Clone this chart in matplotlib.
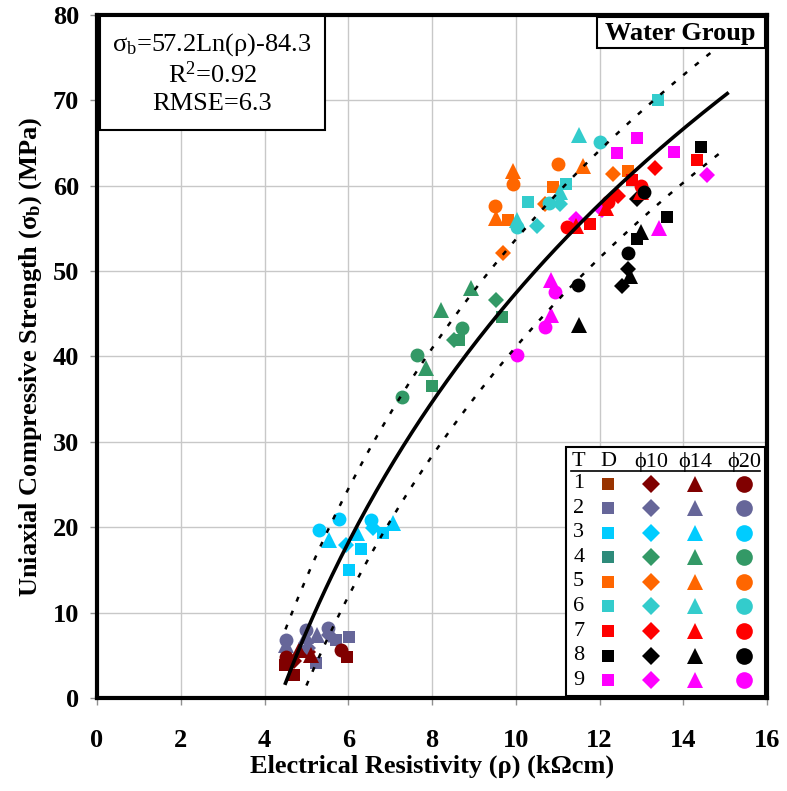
import numpy as np
import matplotlib
matplotlib.use("Agg")
import matplotlib.pyplot as plt
from matplotlib.patches import Rectangle

plt.rcParams['font.family'] = ['Liberation Serif', 'DejaVu Serif']
plt.rcParams['mathtext.fontset'] = 'custom'
plt.rcParams['mathtext.rm'] = 'Liberation Serif'
plt.rcParams['mathtext.it'] = 'Liberation Serif:italic'
plt.rcParams['mathtext.bf'] = 'Liberation Serif:bold'

# ---- data: electrical resistivity (kOhm cm) vs UCS (MPa), by specimen type ----
group_colors = ['#800000', '#666699', '#00CCFF', '#339966', '#FF6600',
                '#33CCCC', '#FF0000', '#000000', '#FF00FF']
legend_square_colors = ['#993300', '#666699', '#00CCFF', '#2E8B7A', '#FF6600',
                        '#33CCCC', '#FF0000', '#000000', '#FF00FF']

# D (plain) specimens -> squares
square_group = [1, 1, 1, 2, 2, 2, 3, 3, 3, 4, 4, 4, 5, 5, 5, 6, 6, 6, 7, 7, 7, 8, 8, 8, 9, 9, 9]
square_rho = [4.48, 4.70, 5.98, 5.71, 6.02, 5.23, 6.30, 6.82, 6.01, 9.67, 8.64, 8.01,
              10.90, 9.82, 12.69, 11.21, 10.29, 13.40, 11.78, 12.77, 14.32,
              14.42, 13.60, 12.89, 12.89, 12.41, 13.79]
square_sigma = [3.9, 2.7, 4.8, 6.8, 7.2, 4.1, 17.5, 19.3, 15.0, 44.6, 41.9, 36.5,
                59.8, 56.0, 61.7, 60.2, 58.1, 70.0, 55.5, 60.7, 63.0,
                64.5, 56.3, 53.8, 65.6, 63.8, 64.0]

# phi10 specimens -> diamonds
diamond_group = [1, 1, 2, 2, 3, 3, 4, 4, 5, 5, 5, 6, 6, 7, 7, 8, 8, 8, 9, 9, 9]
diamond_rho = [4.71, 5.03, 5.55, 5.03, 5.94, 6.58, 9.52, 8.52, 10.69, 9.70, 12.33,
               11.05, 10.51, 12.43, 13.33, 12.89, 12.69, 12.53, 14.56, 11.44, 12.06]
diamond_sigma = [4.3, 5.4, 7.4, 5.8, 17.9, 19.9, 46.6, 41.9, 57.8, 52.1, 61.4,
                 57.9, 55.3, 58.8, 62.1, 58.5, 50.3, 48.2, 61.2, 56.1, 57.1]

# phi14 specimens -> triangles
triangle_group = [1, 1, 2, 2, 2, 3, 3, 3, 4, 4, 4, 5, 5, 5, 6, 6, 6, 7, 7, 7, 8, 8, 8, 9, 9, 9]
triangle_rho = [4.83, 5.11, 4.51, 5.25, 5.00, 5.55, 6.22, 7.06, 8.92, 8.21, 7.85,
                9.93, 11.60, 9.52, 11.52, 11.06, 10.03, 11.44, 12.15, 13.00,
                13.00, 12.73, 11.50, 13.43, 10.83, 10.83]
triangle_sigma = [5.6, 5.0, 6.2, 7.4, 7.3, 18.5, 19.3, 20.5, 48.0, 45.5, 38.6,
                  61.7, 62.3, 56.2, 65.9, 59.3, 56.0, 55.3, 57.4, 59.3,
                  54.6, 49.4, 43.7, 55.1, 48.9, 44.8]

# phi20 specimens -> circles
circle_group = [1, 1, 2, 2, 2, 3, 3, 3, 4, 4, 4, 5, 5, 5, 6, 6, 6, 7, 7, 7, 8, 8, 8, 9, 9, 9]
circle_rho = [4.51, 5.82, 4.51, 4.99, 5.51, 5.79, 5.31, 6.54, 8.72, 7.63, 7.29,
              9.93, 11.02, 9.50, 12.02, 10.79, 10.03, 11.22, 12.21, 12.99,
              13.07, 12.69, 11.48, 10.94, 10.69, 10.03]
circle_sigma = [4.8, 5.6, 6.8, 8.0, 8.2, 21.0, 19.7, 20.8, 43.3, 40.2, 35.3,
                60.2, 62.5, 57.6, 65.1, 58.0, 55.2, 55.2, 58.1, 60.0,
                59.3, 52.1, 48.4, 47.6, 43.4, 40.2]

# regression  sigma_b = a*ln(rho) + b, with +/- RMSE band
fit_a, fit_b, fit_r2, fit_rmse = 57.2, -84.3, 0.92, 6.3
fit_range = (4.5, 15.05)
upper_range = (4.5, 14.7)
lower_range = (5.0, 14.9)

legend_rows = ['1', '2', '3', '4', '5', '6', '7', '8', '9']
legend_headers = ['T', 'D', 'ϕ10', 'ϕ14', 'ϕ20']

# ---- figure ----
fig = plt.figure(figsize=(7.87, 7.91), dpi=100)
ax = fig.add_axes([0.1233, 0.1176, 0.8513, 0.8635])
ax.set_xlim(0, 16)
ax.set_ylim(0, 80)
ax.set_xticks(np.arange(0, 17, 2))
ax.set_yticks(np.arange(0, 81, 10))
ax.grid(True, color='#c8c8c8', lw=1.0)
ax.set_axisbelow(True)
for s in ax.spines.values():
    s.set_linewidth(3)
    s.set_color('black')
ax.tick_params(direction='out', length=5, width=1, color='#909090')
ax.tick_params(axis='x', pad=17)
ax.tick_params(axis='y', pad=8)
for lab in ax.get_xticklabels() + ax.get_yticklabels():
    lab.set_fontweight('bold')
    lab.set_fontsize(19)

ax.set_xlabel('Electrical Resistivity (ρ) (kΩcm)', fontsize=19, fontweight='bold', labelpad=2)
ax.set_ylabel(r'Uniaxial Compressive Strength (σ$_{\mathbf{b}}$) (MPa)', fontsize=19,
              fontweight='bold', labelpad=6)

def fit(r):
    return fit_a * np.log(r) + fit_b

r = np.linspace(*fit_range, 200)
ax.plot(r, fit(r), color='black', lw=2.6, zorder=4)
r = np.linspace(*upper_range, 200)
ax.plot(r, fit(r) + fit_rmse, color='black', lw=1.8, ls=(0, (2, 4)), zorder=4)
r = np.linspace(*lower_range, 200)
ax.plot(r, fit(r) - fit_rmse, color='black', lw=1.8, ls=(0, (2, 4)), zorder=4)

marker_specs = [
    (square_group, square_rho, square_sigma, 's', 9),
    (diamond_group, diamond_rho, diamond_sigma, 'D', 8),
    (triangle_group, triangle_rho, triangle_sigma, '^', 11),
    (circle_group, circle_rho, circle_sigma, 'o', 10),
]
for grp, xs, ys, mk, ms in marker_specs:
    for g, x, y in zip(grp, xs, ys):
        ax.plot(x, y, marker=mk, ms=ms, color=group_colors[g - 1], mew=0,
                ls='none', zorder=3)

# equation box
ax.add_patch(Rectangle((0.004, 0.832), 0.336, 0.166, transform=ax.transAxes,
                       facecolor='white', edgecolor='black', lw=1.5, zorder=6))
eq_lines = [r'σ$_{\rm b}$=' + f'{fit_a}Ln(ρ){fit_b}',
            r'R$^{\rm 2}$=' + f'{fit_r2}',
            f'RMSE={fit_rmse}']
for i, t in enumerate(eq_lines):
    ax.text(0.172, 0.957 - i * 0.044, t, transform=ax.transAxes, ha='center',
            va='center', fontsize=19, zorder=7)

# group title box
ax.add_patch(Rectangle((0.746, 0.951), 0.251, 0.046, transform=ax.transAxes,
                       facecolor='white', edgecolor='black', lw=1.5, zorder=6))
ax.text(0.871, 0.973, 'Water Group', transform=ax.transAxes, ha='center', va='center',
        fontsize=19, fontweight='bold', zorder=7)

# symbol table
ax.add_patch(Rectangle((0.700, 0.003), 0.297, 0.364, transform=ax.transAxes,
                       facecolor='white', edgecolor='black', lw=1.5, zorder=6))
col_x = [0.719, 0.763, 0.827, 0.893, 0.966]
header_y = 0.346
for cx, h in zip(col_x, legend_headers):
    ax.text(cx, header_y, h, transform=ax.transAxes, ha='center', va='center',
            fontsize=16, zorder=7)
ax.plot([0.707, 0.990], [0.333, 0.333], transform=ax.transAxes, color='black',
        lw=1.2, zorder=7)
row_step = 0.036
legend_markers = [('s', 9), ('D', 9), ('^', 12), ('o', 12)]
for i, lab in enumerate(legend_rows):
    ry = 0.314 - i * row_step
    ax.text(col_x[0], ry, lab, transform=ax.transAxes, ha='center', va='center',
            fontsize=16, zorder=7)
    for j, (mk, ms) in enumerate(legend_markers):
        c = legend_square_colors[i] if j == 0 else group_colors[i]
        ax.plot(col_x[j + 1], ry, marker=mk, ms=ms, color=c, mew=0,
                transform=ax.transAxes, zorder=7, clip_on=False)

fig.savefig('out.png', dpi=100)
